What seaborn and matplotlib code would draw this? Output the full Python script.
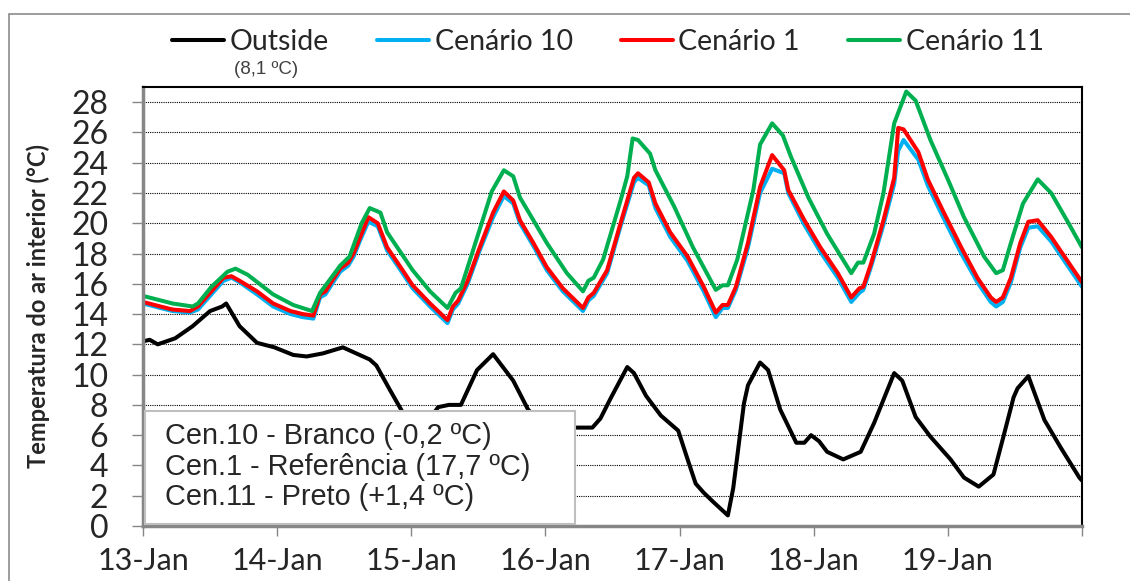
import numpy as np
import pandas as pd
import seaborn as sns
import matplotlib
matplotlib.use("Agg")
import matplotlib.pyplot as plt
from matplotlib.patches import Rectangle
from matplotlib.lines import Line2D

# time axis in days from 13-Jan 00:00
out_t = [0.00, 0.05, 0.11, 0.24, 0.37, 0.50, 0.59, 0.62, 0.72, 0.85, 0.98, 1.12, 1.22, 1.34,
         1.49, 1.69, 1.74, 1.84, 1.93, 2.05, 2.20, 2.28, 2.37, 2.49, 2.61, 2.76, 2.87, 3.00,
         3.16, 3.35, 3.41, 3.49, 3.61, 3.66, 3.75, 3.86, 3.99, 4.06, 4.12, 4.18, 4.25, 4.36,
         4.40, 4.48, 4.51, 4.60, 4.66, 4.75, 4.87, 4.93, 4.98, 5.04, 5.10, 5.22, 5.35, 5.45,
         5.60, 5.66, 5.76, 5.87, 6.02, 6.12, 6.23, 6.34, 6.42, 6.49, 6.52, 6.60, 6.72, 6.84,
         6.98, 7.00]
out_v = [12.2, 12.3, 12.0, 12.4, 13.2, 14.2, 14.5, 14.7, 13.2, 12.1, 11.8, 11.3, 11.2, 11.4,
         11.8, 11.0, 10.6, 9.0, 7.6, 6.0, 7.85, 8.0, 8.0, 10.3, 11.35, 9.6, 7.7, 6.5,
         6.5, 6.5, 7.1, 8.5, 10.5, 10.1, 8.6, 7.3, 6.3, 4.4, 2.8, 2.2, 1.6, 0.7,
         2.5, 8.1, 9.3, 10.8, 10.3, 7.7, 5.5, 5.5, 6.0, 5.6, 4.9, 4.4, 4.9, 6.8,
         10.1, 9.6, 7.2, 5.9, 4.4, 3.2, 2.6, 3.4, 6.1, 8.5, 9.1, 9.9, 7.0, 5.2,
         3.2, 3.0]

ref_t = [0.00, 0.13, 0.22, 0.35, 0.41, 0.50, 0.60, 0.66, 0.72, 0.85, 0.97, 1.10, 1.19, 1.27,
         1.32, 1.36, 1.41, 1.47, 1.53, 1.57, 1.62, 1.68, 1.75, 1.82, 1.92, 2.01, 2.14, 2.27,
         2.31, 2.35, 2.42, 2.51, 2.61, 2.69, 2.76, 2.81, 2.91, 3.01, 3.13, 3.28, 3.32, 3.36,
         3.46, 3.56, 3.66, 3.69, 3.77, 3.82, 3.93, 4.06, 4.18, 4.27, 4.32, 4.36, 4.42, 4.51,
         4.60, 4.69, 4.78, 4.81, 4.93, 5.05, 5.18, 5.28, 5.34, 5.37, 5.43, 5.52, 5.60, 5.63,
         5.67, 5.78, 5.85, 5.97, 6.10, 6.22, 6.32, 6.36, 6.41, 6.47, 6.54, 6.60, 6.67, 6.77,
         6.90, 7.00]
cen1_v = [14.8, 14.5, 14.3, 14.2, 14.5, 15.4, 16.4, 16.5, 16.2, 15.5, 14.7, 14.2, 14.0, 13.9,
          15.3, 15.5, 16.2, 17.0, 17.4, 18.0, 19.1, 20.4, 20.0, 18.4, 17.1, 15.9, 14.7, 13.6,
          14.5, 14.9, 16.2, 18.4, 20.7, 22.1, 21.5, 20.2, 18.7, 17.1, 15.7, 14.4, 15.1, 15.4,
          16.9, 20.0, 23.0, 23.3, 22.7, 21.3, 19.4, 17.8, 15.8, 14.1, 14.6, 14.6, 15.8, 18.7,
          22.4, 24.5, 23.5, 22.2, 20.2, 18.4, 16.7, 15.1, 15.7, 15.8, 17.4, 20.2, 23.0, 26.3,
          26.2, 24.7, 22.9, 20.7, 18.4, 16.4, 15.1, 14.8, 15.1, 16.4, 18.7, 20.1, 20.2, 19.1,
          17.4, 16.1]
cen10_v = [14.7, 14.4, 14.2, 14.1, 14.3, 15.2, 16.2, 16.4, 16.1, 15.3, 14.5, 14.0, 13.8, 13.7,
           15.1, 15.3, 16.0, 16.8, 17.2, 17.8, 18.9, 20.1, 19.8, 18.2, 16.9, 15.7, 14.5, 13.4,
           14.3, 14.7, 16.0, 18.2, 20.4, 21.8, 21.3, 20.0, 18.5, 16.9, 15.5, 14.2, 14.9, 15.2,
           16.7, 19.8, 22.7, 23.0, 22.5, 21.0, 19.1, 17.5, 15.5, 13.8, 14.4, 14.4, 15.6, 18.4,
           22.0, 23.6, 23.3, 22.0, 19.9, 18.1, 16.4, 14.8, 15.4, 15.6, 17.2, 19.9, 22.6, 24.8,
           25.5, 24.2, 22.5, 20.3, 18.0, 16.1, 14.8, 14.5, 14.8, 16.1, 18.4, 19.7, 19.8, 18.8,
           17.1, 15.8]

c11_t = [0.00, 0.22, 0.37, 0.41, 0.51, 0.63, 0.69, 0.78, 0.97, 1.12, 1.26, 1.32, 1.47, 1.54,
         1.63, 1.69, 1.77, 1.82, 2.01, 2.14, 2.27, 2.33, 2.37, 2.46, 2.60, 2.69, 2.76, 2.81,
         3.01, 3.16, 3.28, 3.32, 3.36, 3.43, 3.56, 3.61, 3.65, 3.69, 3.78, 3.82, 3.96, 4.10,
         4.27, 4.32, 4.36, 4.43, 4.55, 4.60, 4.69, 4.77, 4.83, 4.96, 5.10, 5.28, 5.33, 5.37,
         5.45, 5.52, 5.60, 5.69, 5.76, 5.87, 6.00, 6.12, 6.27, 6.36, 6.41, 6.47, 6.56, 6.67,
         6.77, 6.90, 7.00]
cen11_v = [15.2, 14.7, 14.5, 14.7, 15.8, 16.8, 17.0, 16.6, 15.3, 14.6, 14.2, 15.4, 17.2, 17.8,
           20.0, 21.0, 20.7, 19.4, 16.9, 15.5, 14.4, 15.4, 15.7, 18.2, 22.1, 23.5, 23.1, 21.7,
           18.7, 16.7, 15.5, 16.2, 16.4, 17.6, 21.5, 23.1, 25.6, 25.5, 24.6, 23.5, 21.1, 18.4,
           15.6, 15.9, 15.9, 17.6, 22.2, 25.2, 26.6, 25.8, 24.4, 21.7, 19.3, 16.7, 17.4, 17.4,
           19.3, 22.0, 26.6, 28.7, 28.1, 25.5, 22.9, 20.4, 17.8, 16.7, 16.9, 18.7, 21.3, 22.9,
           22.0, 20.0, 18.4]

series_names = ["Outside", "Cenário 10", "Cenário 1", "Cenário 11"]
series_colors = ["#000000", "#00B0F0", "#FF0000", "#00B050"]
day_ticks = [0, 1, 2, 3, 4, 5, 6, 7]
day_labels = ["13-Jan", "14-Jan", "15-Jan", "16-Jan", "17-Jan", "18-Jan", "19-Jan", ""]
box_lines = ["Cen.10 - Branco (-0,2 ºC)",
             "Cen.1 - Referência (17,7 ºC)",
             "Cen.11 - Preto (+1,4 ºC)"]
outside_mean = "(8,1 ºC)"

df = pd.concat([
    pd.DataFrame({"t": out_t, "v": out_v, "serie": series_names[0]}),
    pd.DataFrame({"t": ref_t, "v": cen10_v, "serie": series_names[1]}),
    pd.DataFrame({"t": ref_t, "v": cen1_v, "serie": series_names[2]}),
    pd.DataFrame({"t": c11_t, "v": cen11_v, "serie": series_names[3]}),
], ignore_index=True)

sns.set_theme(style="white")
plt.rcParams["font.family"] = ["Lato", "DejaVu Sans"]

fig = plt.figure(figsize=(11.3, 5.81), dpi=100)
ax = fig.add_axes([143 / 1130, 1 - 526 / 581, 939 / 1130, 439 / 581])

# outer chart-area frame
fig.patches.append(Rectangle((9 / 1130, -0.1), 1.2, 1 - 14 / 581 + 0.1,
                             transform=fig.transFigure, fill=False,
                             edgecolor="#8C8C8C", linewidth=1.2))

sns.lineplot(data=df, x="t", y="v", hue="serie", hue_order=series_names,
             palette=dict(zip(series_names, series_colors)), estimator=None,
             sort=False, linewidth=2.9, ax=ax, legend=False)

ax.set_xlim(0, 7)
ax.set_ylim(0, 29)
ax.set_yticks(np.arange(0, 29, 2))
ax.set_xticks(day_ticks)
ax.set_xticklabels(day_labels)
for yv in range(2, 30, 2):
    ax.axhline(yv, color="black", linewidth=0.8, linestyle=(0, (1, 1)), zorder=0)

for side in ["top", "right"]:
    ax.spines[side].set_color("black")
    ax.spines[side].set_linewidth(1.5)
for side in ["left", "bottom"]:
    ax.spines[side].set_color("#868686")
    ax.spines[side].set_linewidth(2.5)

ax.tick_params(axis="y", direction="out", length=8, width=1, color="#868686",
               pad=17, labelsize=23, left=True)
ax.tick_params(axis="x", direction="out", length=7, width=1, color="#868686",
               pad=8, labelsize=22, bottom=True)

ax.set_xlabel("")
ax.set_ylabel("Temperatura do ar interior (°C)", fontsize=17, fontweight="bold")
ax.yaxis.set_label_coords(-0.099, 0.5)

# summary box of scenarios
ax.add_patch(Rectangle((0.002, 0.005), 0.458, 0.257, transform=ax.transAxes,
                       facecolor="white", edgecolor="#BFBFBF", linewidth=1.5, zorder=5))
for i, txt in enumerate(box_lines):
    ax.text(0.0234, 0.205 - i * 0.07, txt, transform=ax.transAxes, va="center", ha="left",
            fontsize=20.8, family=["Liberation Sans", "DejaVu Sans"], zorder=6)

handles = [Line2D([], [], color=c, linewidth=2.9) for c in series_colors]
fig.legend(handles, series_names, loc="center left", bbox_to_anchor=(172 / 1130, 1 - 42 / 581),
           ncol=4, frameon=False, fontsize=20.5, handlelength=1.83, handletextpad=0.2,
           columnspacing=1.68, borderaxespad=0, borderpad=0)
fig.text(266 / 1130, 1 - 70 / 581, outside_mean, ha="center", va="center", fontsize=13.5,
         color="#404040", family=["Liberation Sans", "DejaVu Sans"])

fig.savefig("out.png", dpi=100)
